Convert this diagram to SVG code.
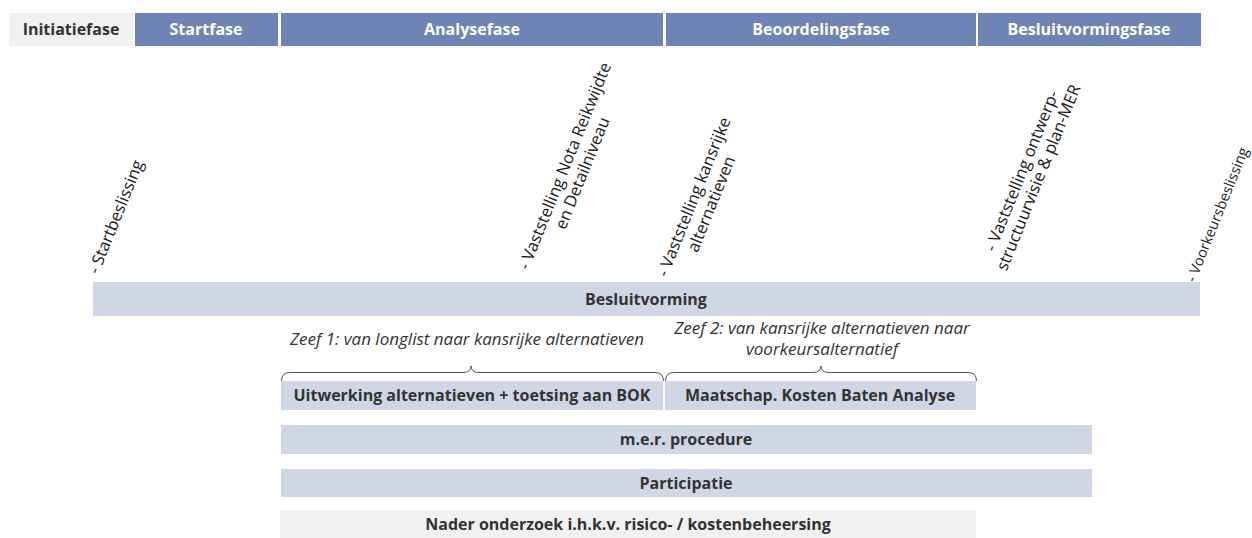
<svg xmlns="http://www.w3.org/2000/svg" width="1252" height="538" viewBox="0 0 1252 538">
<style>
.ph{fill:#6e84b4}
.lt{fill:#cfd7e5}
.gr{fill:#f1f1f1}
.ht{font-family:"Open Sans","Liberation Sans",sans-serif;font-weight:bold;font-size:16px;fill:#ffffff;text-anchor:middle}
.bt{font-family:"Open Sans","Liberation Sans",sans-serif;font-weight:bold;font-size:16px;fill:#333333;text-anchor:middle}
.rt{font-family:"Open Sans","Liberation Sans",sans-serif;font-size:16.5px;fill:#1a1a1a;text-anchor:middle}
.zt{font-family:"Open Sans","Liberation Sans",sans-serif;font-style:italic;font-size:17px;fill:#333333;text-anchor:middle}
.br{fill:none;stroke:#555555;stroke-width:1}
</style>
<rect width="1252" height="538" fill="#ffffff"/>
<g id="phases">
  <g id="initiatiefase"><rect x="9" y="13" width="124" height="33" class="gr"/><text x="71" y="35" class="bt">Initiatiefase</text></g>
  <g id="startfase"><rect x="135" y="13" width="143" height="33" class="ph"/><text x="206" y="35" class="ht">Startfase</text></g>
  <g id="analysefase"><rect x="281" y="13" width="382" height="33" class="ph"/><text x="472" y="35" class="ht">Analysefase</text></g>
  <g id="beoordelingsfase"><rect x="666" y="13" width="310" height="33" class="ph"/><text x="821" y="35" class="ht">Beoordelingsfase</text></g>
  <g id="besluitvormingsfase"><rect x="978" y="13" width="223" height="33" class="ph"/><text x="1089" y="35" class="ht">Besluitvormingsfase</text></g>
</g>
<g id="milestones">
  <g id="m-startbeslissing"><text class="rt" transform="translate(121,219) rotate(-68)">- Startbeslissing</text></g>
  <g id="m-nrd"><text class="rt" transform="translate(570,168) rotate(-68)"><tspan x="0" y="0">- Vaststelling Nota Reikwijdte</tspan><tspan x="0" y="19">en Detailniveau</tspan></text></g>
  <g id="m-kansrijk"><text class="rt" transform="translate(699,199) rotate(-68)"><tspan x="0" y="0">- Vaststelling kansrijke</tspan><tspan x="0" y="19">alternatieven</tspan></text></g>
  <g id="m-ontwerp"><text class="rt" transform="translate(1027,173) rotate(-68)"><tspan x="0" y="0">- Vaststelling ontwerp-</tspan><tspan x="0" y="18">structuurvisie &amp; plan-MER</tspan></text></g>
  <g id="m-voorkeur"><text class="rt" style="text-anchor:start;font-size:14.5px" transform="translate(1195,283) rotate(-68)">- Voorkeursbeslissing</text></g>
</g>
<g id="besluitvorming"><rect x="93" y="282" width="1107" height="34" class="lt"/><text x="646" y="305" class="bt">Besluitvorming</text></g>
<g id="zeef1"><text x="467" y="345" class="zt">Zeef 1: van longlist naar kansrijke alternatieven</text></g>
<g id="zeef2"><text class="zt"><tspan x="822" y="334">Zeef 2: van kansrijke alternatieven naar</tspan><tspan x="822" y="355">voorkeursalternatief</tspan></text></g>
<g id="connectors">
  <path class="br" d="M281.5,381 Q281.5,372.5 290,372.5 L463,372.5 Q471,372.5 471,366 Q471,372.5 479,372.5 L655,372.5 Q663.5,372.5 663.5,381"/>
  <path class="br" d="M665.5,381 Q665.5,372.5 674,372.5 L813,372.5 Q821,372.5 821,366 Q821,372.5 829,372.5 L968,372.5 Q976.5,372.5 976.5,381"/>
</g>
<g id="uitwerking"><rect x="281" y="381" width="382" height="29" class="lt"/><text x="472" y="401" class="bt">Uitwerking alternatieven + toetsing aan BOK</text></g>
<g id="mkba"><rect x="665" y="381" width="311" height="29" class="lt"/><text x="820" y="401" class="bt">Maatschap. Kosten Baten Analyse</text></g>
<g id="mer"><rect x="281" y="425" width="811" height="29" class="lt"/><text x="686" y="445" class="bt">m.e.r. procedure</text></g>
<g id="participatie"><rect x="281" y="469" width="811" height="28" class="lt"/><text x="686" y="489" class="bt">Participatie</text></g>
<g id="nader"><rect x="280" y="510" width="696" height="28" class="gr"/><text x="628" y="530" class="bt">Nader onderzoek i.h.k.v. risico- / kostenbeheersing</text></g>
</svg>
